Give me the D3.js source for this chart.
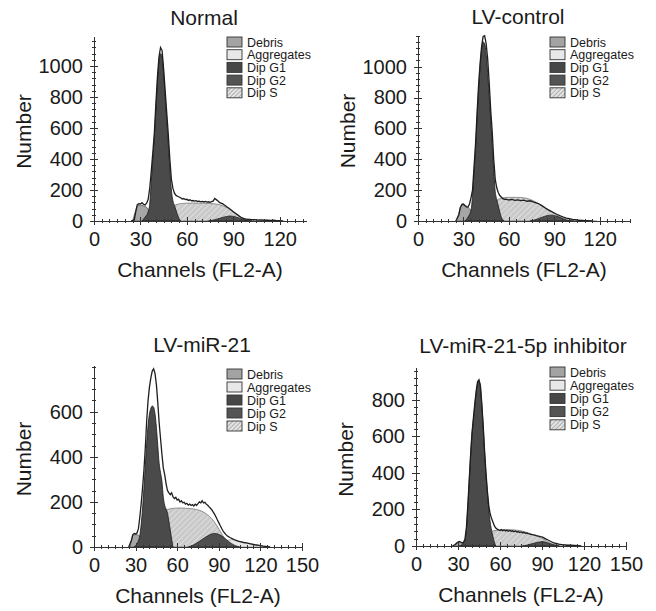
<!DOCTYPE html>
<meta charset="utf-8">
<style>
body { margin: 0; background: #fff; }
text { font-family: "Liberation Sans", Arial, sans-serif; fill: #1a1a1a; }
.axis path, .axis line { stroke: #333; stroke-width: 1; shape-rendering: crispEdges; }
.axis text { font-size: 20px; }
.hist { fill: none; stroke: #1e1e1e; stroke-width: 1.3px; }
</style>
<body>
<script src="https://d3js.org/d3.v7.min.js"></script>
<script>

// legend entries
var legendNames = ["Debris", "Aggregates", "Dip G1", "Dip G2", "Dip S"];
var titles = ["Normal", "LV-control", "LV-miR-21", "LV-miR-21-5p inhibitor"];

// ---- Normal : [channel, number]
var normalHist = [[24,0],[26,5],[27,60],[28,105],[29,112],[30,110],[31,118],[32,108],[33,104],[34,115],[35,140],[36,210],[37,320],[38,440],[39,570],[40,760],[41,930],[42,1060],[43,1120],[44,1100],[45,980],[46,840],[47,700],[48,560],[49,400],[50,270],[51,210],[52,180],[53,165],[54,160],[55,155],[56,150],[57,142],[58,145],[59,138],[60,140],[61,133],[62,137],[63,130],[64,132],[65,128],[66,131],[67,126],[68,128],[69,124],[70,127],[71,123],[72,126],[73,122],[74,124],[75,121],[76,125],[77,128],[78,146],[79,138],[80,130],[81,120],[82,116],[83,112],[84,105],[85,98],[86,90],[87,84],[88,76],[89,68],[90,60],[91,52],[92,45],[93,38],[94,30],[95,24],[96,19],[97,15],[98,12],[100,10],[102,8],[104,9],[106,6],[108,7],[110,5],[112,6],[114,4],[116,5],[118,3],[120,2],[122,0]];
var normalG1 = [[31,0],[33,25],[35,60],[36,110],[37,250],[38,400],[39,540],[40,720],[41,900],[42,1030],[43,1080],[44,1060],[45,950],[46,800],[47,650],[48,500],[49,340],[50,200],[51,130],[52,100],[53,70],[54,40],[55,15],[56,0]];
var normalS = [[44,0],[47,40],[50,85],[53,105],[56,112],[60,115],[65,116],[70,115],[75,113],[80,108],[84,95],[88,75],[91,55],[94,32],[97,14],[100,4],[102,0]];
var normalG2 = [[74,0],[78,8],[82,20],[85,28],[88,32],[91,28],[94,18],[97,8],[100,2],[102,0]];
var normalDebris = [[25,0],[27,70],[28,98],[30,102],[32,98],[34,88],[36,60],[38,30],[40,0]];
var normalAgg = [[85,0],[90,18],[95,20],[100,12],[105,7],[110,5],[115,3],[120,1],[123,0]];

// ---- LV-control
var controlHist = [[25,0],[27,40],[28,90],[29,108],[30,110],[31,100],[32,92],[33,90],[34,110],[35,150],[36,200],[37,350],[38,500],[39,700],[40,880],[41,1020],[42,1130],[43,1195],[44,1200],[45,1150],[46,1050],[47,900],[48,720],[49,580],[50,400],[51,270],[52,215],[53,185],[54,165],[55,155],[56,145],[57,140],[58,142],[60,136],[62,140],[64,134],[66,137],[68,132],[70,135],[72,128],[74,131],[76,124],[78,118],[80,110],[82,98],[84,84],[86,72],[88,62],[90,52],[92,42],[94,33],[96,25],[98,19],[100,15],[102,11],[104,8],[106,5],[108,4],[110,3],[112,2],[115,0]];
var controlG1 = [[31,0],[33,25],[35,70],[36,160],[37,320],[38,470],[39,660],[40,850],[41,1000],[42,1110],[43,1160],[44,1150],[45,1080],[46,960],[47,820],[48,660],[49,500],[50,330],[51,190],[52,140],[53,100],[54,60],[55,25],[57,0]];
var controlS = [[44,0],[47,50],[50,110],[53,140],[56,150],[60,153],[65,153],[70,150],[74,140],[78,122],[82,100],[86,75],[90,50],[93,30],[96,12],[99,3],[101,0]];
var controlG2 = [[74,0],[78,10],[82,25],[85,34],[88,38],[91,33],[94,22],[97,10],[100,3],[103,0]];
var controlDebris = [[25,0],[27,50],[28,90],[30,100],[32,95],[34,80],[36,50],[38,20],[40,0]];
var controlAgg = [[88,0],[92,15],[96,18],[100,12],[105,7],[110,4],[115,2],[118,0]];

// ---- LV-miR-21
var mirHist = [[25,0],[27,30],[28,55],[29,60],[30,58],[31,62],[32,80],[33,130],[34,190],[35,260],[36,340],[37,440],[38,560],[39,650],[40,710],[41,750],[42,780],[43,790],[44,770],[45,720],[46,640],[47,550],[48,480],[49,410],[50,350],[51,320],[52,280],[53,250],[54,240],[55,232],[56,240],[57,222],[58,215],[59,220],[60,208],[61,212],[62,200],[63,205],[64,196],[65,198],[66,190],[67,194],[68,186],[69,190],[70,184],[71,188],[72,182],[73,190],[74,185],[75,192],[76,200],[77,196],[78,205],[79,195],[80,198],[81,190],[82,185],[83,178],[84,172],[85,165],[86,155],[87,145],[88,133],[89,120],[90,108],[91,95],[92,83],[93,72],[94,63],[95,56],[96,50],[98,42],[100,36],[102,30],[104,26],[106,23],[108,20],[110,18],[113,14],[116,10],[119,7],[122,4],[125,2],[127,0]];
var mirG1 = [[29,0],[31,15],[33,50],[34,100],[35,170],[36,260],[37,360],[38,460],[39,540],[40,590],[41,615],[42,625],[43,620],[44,590],[45,530],[46,450],[47,370],[48,330],[49,290],[50,220],[51,185],[52,168],[53,150],[54,115],[55,75],[56,35],[57,0]];
var mirS = [[45,0],[47,60],[49,120],[51,155],[54,168],[58,172],[62,173],[66,172],[70,170],[74,166],[78,158],[82,142],[85,125],[88,100],[91,70],[94,40],[97,18],[100,5],[103,0]];
var mirG2 = [[68,0],[72,10],[76,25],[80,42],[84,56],[87,60],[90,56],[93,45],[96,30],[99,16],[102,6],[105,0]];
var mirDebris = [[26,0],[27,30],[28,50],[30,55],[32,52],[34,40],[36,20],[38,0]];
var mirAgg = [[92,0],[96,30],[100,32],[105,24],[110,17],[115,11],[120,6],[125,2],[127,0]];

// ---- LV-miR-21-5p inhibitor
var inhHist = [[26,0],[28,8],[29,15],[30,22],[31,25],[32,22],[33,18],[34,20],[35,40],[36,100],[37,220],[38,360],[39,500],[40,620],[41,700],[42,780],[43,850],[44,900],[45,910],[46,880],[47,780],[48,660],[49,520],[50,400],[51,300],[52,220],[53,175],[54,150],[55,130],[56,110],[57,98],[58,92],[59,88],[60,85],[61,90],[62,84],[63,88],[64,82],[65,86],[66,81],[67,85],[68,80],[69,83],[70,78],[71,82],[72,76],[73,79],[74,74],[75,77],[76,72],[77,75],[78,70],[79,72],[80,68],[81,66],[82,64],[83,62],[84,61],[85,60],[86,57],[87,55],[88,53],[89,51],[90,50],[91,46],[92,42],[93,38],[94,34],[95,30],[96,26],[97,22],[98,18],[99,16],[100,14],[102,10],[104,8],[106,6],[108,4],[110,4],[113,3],[116,2],[118,0]];
var inhG1 = [[31,0],[33,8],[35,30],[36,90],[37,210],[38,350],[39,490],[40,610],[41,690],[42,770],[43,840],[44,890],[45,900],[46,870],[47,770],[48,650],[49,510],[50,390],[51,290],[52,200],[53,130],[54,85],[55,50],[56,20],[57,0]];
var inhS = [[46,0],[49,40],[52,70],[55,82],[60,88],[65,90],[70,88],[75,83],[80,72],[85,58],[90,42],[94,25],[97,12],[100,4],[103,0]];
var inhG2 = [[76,0],[80,6],[84,15],[88,22],[90,24],[93,20],[96,12],[99,5],[102,0]];
var inhDebris = [[27,0],[28,10],[30,20],[32,18],[34,12],[36,5],[38,0]];
var inhAgg = [[92,0],[96,8],[100,10],[105,7],[110,4],[115,2],[118,0]];

// tick labels
var xTicksA = [0, 30, 60, 90, 120];
var xTicksB = [0, 30, 60, 90, 120, 150];
var yTicksA = [0, 200, 400, 600, 800, 1000];
var yTicksC = [0, 200, 400, 600];
var yTicksD = [0, 200, 400, 600, 800];

var panels = [
  {hist: normalHist, g1: normalG1, s: normalS, g2: normalG2, debris: normalDebris, agg: normalAgg,
   xTicks: xTicksA, yTicks: yTicksA, xMax: 137, yMax: 1194, yMinor: 40,
   box: {x0: 94, x1: 306, y0: 221, y1: 36}, title: [204, 25], legend: [227, 42, 12.7]},
  {hist: controlHist, g1: controlG1, s: controlS, g2: controlG2, debris: controlDebris, agg: controlAgg,
   xTicks: xTicksA, yTicks: yTicksA, xMax: 140, yMax: 1205, yMinor: 40,
   box: {x0: 418, x1: 630, y0: 221, y1: 35}, title: [518, 24], legend: [550, 42, 12.7]},
  {hist: mirHist, g1: mirG1, s: mirS, g2: mirG2, debris: mirDebris, agg: mirAgg,
   xTicks: xTicksB, yTicks: yTicksC, xMax: 150, yMax: 807, yMinor: 50,
   box: {x0: 94, x1: 302, y0: 547, y1: 365}, title: [202, 352], legend: [227, 374, 13]},
  {hist: inhHist, g1: inhG1, s: inhS, g2: inhG2, debris: inhDebris, agg: inhAgg,
   xTicks: xTicksB, yTicks: yTicksD, xMax: 150, yMax: 980, yMinor: 40,
   box: {x0: 416, x1: 626, y0: 546, y1: 367}, title: [523, 353], legend: [550, 372, 13.2]}
];

var svg = d3.select("body").append("svg")
    .attr("width", 656)
    .attr("height", 611);

// hatch patterns for Dip S
var defs = svg.append("defs");
var hp = defs.append("pattern").attr("id", "hatch")
    .attr("width", 4).attr("height", 4)
    .attr("patternUnits", "userSpaceOnUse")
    .attr("patternTransform", "rotate(45)");
hp.append("rect").attr("width", 4).attr("height", 4).attr("fill", "#c9c9c9");
hp.append("line").attr("x1", 0).attr("y1", 0).attr("x2", 0).attr("y2", 4)
    .attr("stroke", "#e6e6e6").attr("stroke-width", 1.5);
var hl = defs.append("pattern").attr("id", "hatchLegend")
    .attr("width", 3).attr("height", 3)
    .attr("patternUnits", "userSpaceOnUse")
    .attr("patternTransform", "rotate(45)");
hl.append("rect").attr("width", 3).attr("height", 3).attr("fill", "#e4e4e4");
hl.append("line").attr("x1", 0).attr("y1", 0).attr("x2", 0).attr("y2", 3)
    .attr("stroke", "#8a8a8a").attr("stroke-width", 1.2);

var legendFill = ["#a3a3a3", "#e8e8e8", "#474747", "#545454", "url(#hatchLegend)"];

panels.forEach(function(p, i) {
  var b = p.box;
  var x = d3.scaleLinear().domain([0, p.xMax]).range([b.x0, b.x1]);
  var y = d3.scaleLinear().domain([0, p.yMax]).range([b.y0, b.y1]);
  var g = svg.append("g");

  var area = d3.area().curve(d3.curveMonotoneX)
      .x(function(d) { return x(d[0]); })
      .y0(y(0))
      .y1(function(d) { return y(d[1]); });

  // components, back to front
  g.append("path").datum(p.agg).attr("d", area)
      .attr("fill", "#e6e6e6").attr("stroke", "#999").attr("stroke-width", 0.7);
  g.append("path").datum(p.debris).attr("d", area)
      .attr("fill", "#a6a6a6").attr("stroke", "#555").attr("stroke-width", 0.8);
  g.append("path").datum(p.s).attr("d", area)
      .attr("fill", "url(#hatch)").attr("stroke", "#777").attr("stroke-width", 0.8);
  g.append("path").datum(p.g2).attr("d", area)
      .attr("fill", "#4f4f4f").attr("stroke", "#222").attr("stroke-width", 0.8);
  g.append("path").datum(p.g1).attr("d", area)
      .attr("fill", "#4a4a4a").attr("stroke", "#1a1a1a").attr("stroke-width", 0.8);

  // measured histogram
  g.append("path").datum(p.hist).attr("class", "hist")
      .attr("d", d3.line()
        .x(function(d) { return x(d[0]); })
        .y(function(d) { return y(d[1]); }));

  // x axis: minor + major, ticks crossing the line
  var xMinor = g.append("g").attr("class", "axis")
      .attr("transform", "translate(0," + b.y0 + ")")
      .call(d3.axisBottom(x).tickValues(d3.range(0, p.xMax + 0.1, 5))
        .tickSize(2).tickSizeOuter(0).tickFormat(""));
  xMinor.selectAll(".tick line").attr("y1", -2);
  var xAxis = g.append("g").attr("class", "axis")
      .attr("transform", "translate(0," + b.y0 + ")")
      .call(d3.axisBottom(x).tickValues(p.xTicks).tickSize(4).tickSizeOuter(0)
        .tickPadding(7).tickFormat(d3.format("d")));
  xAxis.selectAll(".tick line").attr("y1", -4);
  xAxis.select(".domain").remove();

  var yMinor = g.append("g").attr("class", "axis")
      .attr("transform", "translate(" + b.x0 + ",0)")
      .call(d3.axisLeft(y).tickValues(d3.range(0, p.yMax, p.yMinor))
        .tickSize(2).tickSizeOuter(0).tickFormat(""));
  yMinor.selectAll(".tick line").attr("x1", 2);
  var yAxis = g.append("g").attr("class", "axis")
      .attr("transform", "translate(" + b.x0 + ",0)")
      .call(d3.axisLeft(y).tickValues(p.yTicks).tickSize(4).tickSizeOuter(0)
        .tickPadding(7).tickFormat(d3.format("d")));
  yAxis.selectAll(".tick line").attr("x1", 4);
  yAxis.select(".domain").remove();

  // titles
  g.append("text")
      .attr("x", p.title[0]).attr("y", p.title[1])
      .attr("text-anchor", "middle").attr("font-size", "21px")
      .text(titles[i]);
  g.append("text")
      .attr("x", (b.x0 + b.x1) / 2).attr("y", b.y0 + 56)
      .attr("text-anchor", "middle").attr("font-size", "21px")
      .text("Channels (FL2-A)");
  g.append("text")
      .attr("transform", "translate(" + (b.x0 - 63) + "," + ((b.y0 + b.y1) / 2 + 3) + ") rotate(-90)")
      .attr("text-anchor", "middle").attr("font-size", "21px")
      .text("Number");

  // legend
  var lg = g.append("g");
  legendNames.forEach(function(name, k) {
    var cy = p.legend[1] + k * p.legend[2];
    lg.append("rect")
        .attr("x", p.legend[0]).attr("y", cy - 5)
        .attr("width", 15).attr("height", 10)
        .attr("fill", legendFill[k]).attr("stroke", "#333").attr("stroke-width", 0.9);
    lg.append("text")
        .attr("x", p.legend[0] + 20).attr("y", cy + 4.5)
        .attr("font-size", "12.5px")
        .text(name);
  });
});

</script>
</body>
